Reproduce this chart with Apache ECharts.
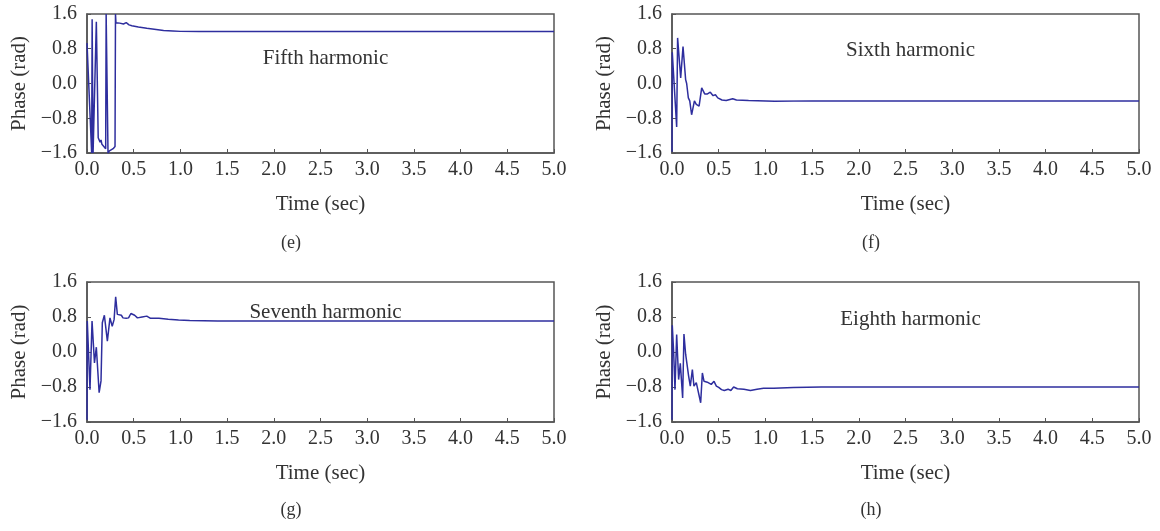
<!DOCTYPE html>
<html>
<head>
<meta charset="utf-8">
<script src="https://cdn.jsdelivr.net/npm/echarts@6/dist/echarts.min.js"></script>
<style>
  html, body { margin: 0; padding: 0; background: #fff; }
  #chart { width: 1160px; height: 531px; }
</style>
</head>
<body>
<div id="chart"></div>
<script>
// tick labels
const timeTicks = ['0.0', '0.5', '1.0', '1.5', '2.0', '2.5', '3.0', '3.5', '4.0', '4.5', '5.0']
const phaseTicks = ['-1.6', '-0.8', '0.0', '0.8', '1.6']

// (e) fifth harmonic
const fifthTime = [0, 0.05, 0.055, 0.065, 0.10, 0.12, 0.13, 0.14, 0.15, 0.16, 0.17, 0.18, 0.19, 0.20, 0.205, 0.22, 0.225, 0.24, 0.26, 0.28, 0.30, 0.305, 0.31, 0.35, 0.39, 0.42, 0.45, 0.48, 0.55, 0.64, 0.72, 0.82, 0.92, 1.0, 1.2, 2.0, 3.0, 4.0, 5.0]
const fifthPhase = [0.93, -1.6, 1.48, -1.6, 1.42, -1.25, -1.22, -1.35, -1.3, -1.4, -1.38, -1.45, -1.42, -1.5, 1.6, 1.6, -1.6, -1.55, -1.58, -1.5, -1.45, 1.6, 1.4, 1.39, 1.37, 1.40, 1.35, 1.33, 1.3, 1.27, 1.25, 1.22, 1.21, 1.2, 1.195, 1.195, 1.195, 1.195, 1.195]

// (f) sixth harmonic
const sixthTime = [0, 0.003, 0.05, 0.06, 0.093, 0.118, 0.146, 0.157, 0.175, 0.19, 0.21, 0.24, 0.26, 0.29, 0.318, 0.35, 0.38, 0.41, 0.44, 0.465, 0.49, 0.535, 0.58, 0.65, 0.69, 0.82, 1.1, 1.5, 2.0, 3.0, 4.0, 5.0]
const sixthPhase = [-1.57, 0.72, -1.0, 1.05, 0.13, 0.85, 0.09, 0.0, -0.33, -0.4, -0.72, -0.4, -0.48, -0.52, -0.1, -0.24, -0.24, -0.2, -0.28, -0.26, -0.33, -0.38, -0.39, -0.35, -0.38, -0.39, -0.41, -0.4, -0.4, -0.4, -0.4, -0.4]

// (g) seventh harmonic
const seventhTime = [0, 0.003, 0.032, 0.054, 0.08, 0.10, 0.13, 0.15, 0.164, 0.186, 0.218, 0.246, 0.27, 0.29, 0.307, 0.325, 0.368, 0.385, 0.42, 0.445, 0.47, 0.51, 0.54, 0.59, 0.64, 0.68, 0.77, 0.87, 0.98, 1.1, 1.4, 2.0, 3.0, 4.0, 5.0]
const seventhPhase = [-1.55, 0.71, -0.86, 0.71, -0.25, 0.11, -0.93, -0.66, 0.67, 0.84, 0.25, 0.78, 0.59, 0.74, 1.26, 0.86, 0.84, 0.78, 0.77, 0.78, 0.88, 0.84, 0.78, 0.8, 0.82, 0.77, 0.77, 0.75, 0.73, 0.72, 0.71, 0.71, 0.71, 0.71, 0.71]

// (h) eighth harmonic
const eighthTime = [0, 0.003, 0.018, 0.032, 0.05, 0.071, 0.089, 0.114, 0.128, 0.146, 0.164, 0.178, 0.196, 0.218, 0.235, 0.26, 0.278, 0.307, 0.325, 0.343, 0.378, 0.42, 0.45, 0.475, 0.50, 0.53, 0.56, 0.60, 0.63, 0.66, 0.70, 0.77, 0.84, 0.91, 0.98, 1.09, 1.3, 1.6, 2.0, 3.0, 4.0, 5.0]
const eighthPhase = [-1.55, 0.61, -0.02, -0.86, 0.4, -0.63, -0.26, -1.05, 0.41, -0.05, -0.08, -0.55, -0.78, -0.4, -0.78, -0.7, -0.74, -1.16, -0.48, -0.67, -0.69, -0.74, -0.67, -0.78, -0.81, -0.86, -0.88, -0.85, -0.88, -0.8, -0.84, -0.85, -0.88, -0.85, -0.83, -0.83, -0.81, -0.8, -0.8, -0.8, -0.8, -0.8]

const panels = [
  { name: 'Fifth harmonic', tag: '(e)', time: fifthTime, phase: fifthPhase },
  { name: 'Sixth harmonic', tag: '(f)', time: sixthTime, phase: sixthPhase },
  { name: 'Seventh harmonic', tag: '(g)', time: seventhTime, phase: seventhPhase },
  { name: 'Eighth harmonic', tag: '(h)', time: eighthTime, phase: eighthPhase }
]

const font = 'Liberation Serif'
const textColor = '#333'
const lineColor = '#2e2e9e'
const frameColor = '#555'

// grid boxes (px)
const boxes = [
  { left: 87, top: 14, height: 139, titleTop: 43, tagX: 286, tagY: 229 },
  { left: 672, top: 14, height: 139, titleTop: 35, tagX: 866, tagY: 229 },
  { left: 87, top: 282, height: 140, titleTop: 297, tagX: 286, tagY: 496 },
  { left: 672, top: 282, height: 140, titleTop: 304, tagX: 866, tagY: 496 }
]

const myEcharts = echarts.init(document.getElementById('chart'))

let grid = [], xAxis = [], yAxis = [], series = [], title = []
panels.forEach((p, i) => {
  const b = boxes[i]
  grid.push({
    left: b.left, top: b.top, width: 467, height: b.height,
    show: true, borderColor: frameColor, borderWidth: 1.5, backgroundColor: '#fff'
  })
  xAxis.push({
    gridIndex: i, type: 'value', min: 0, max: 5, interval: 0.5,
    name: 'Time (sec)', nameLocation: 'middle', nameGap: 41,
    nameTextStyle: { fontFamily: font, fontSize: 21, color: textColor },
    axisLine: { show: true, onZero: false, lineStyle: { color: frameColor, width: 1.5 } },
    axisTick: { show: true, inside: true, length: 4, lineStyle: { color: frameColor } },
    axisLabel: { fontFamily: font, fontSize: 20, color: textColor, margin: 7,
      formatter: v => timeTicks[Math.round(v * 2)] },
    splitLine: { show: false }
  })
  yAxis.push({
    gridIndex: i, type: 'value', min: -1.6, max: 1.6, interval: 0.8,
    name: 'Phase (rad)', nameLocation: 'middle', nameGap: 57,
    nameTextStyle: { fontFamily: font, fontSize: 21, color: textColor },
    axisLine: { show: true, onZero: false, lineStyle: { color: frameColor, width: 1.5 } },
    axisTick: { show: true, inside: true, length: 4, lineStyle: { color: frameColor } },
    axisLabel: { fontFamily: font, fontSize: 20, color: textColor, margin: 10,
      formatter: v => phaseTicks[Math.round((v + 1.6) / 0.8)].replace('-', '\u2212') },
    splitLine: { show: false }
  })
  series.push({
    type: 'line', xAxisIndex: i, yAxisIndex: i,
    data: p.time.map((t, k) => [t, p.phase[k]]),
    showSymbol: false, symbol: 'none',
    lineStyle: { color: lineColor, width: 1.5 },
    clip: true, animation: false
  })
  title.push({
    text: p.name, left: b.left + 233.5, top: b.titleTop, textAlign: 'center',
    textStyle: { fontFamily: font, fontSize: 21, fontWeight: 'normal', color: textColor }
  })
  title.push({
    text: p.tag, left: b.tagX, top: b.tagY, textAlign: 'center',
    textStyle: { fontFamily: font, fontSize: 18, fontWeight: 'normal', color: textColor }
  })
})

const option = {
  backgroundColor: '#fff',
  animation: false,
  title: title,
  grid: grid,
  xAxis: xAxis,
  yAxis: yAxis,
  series: series
}
option && myEcharts.setOption(option)
</script>
</body>
</html>
